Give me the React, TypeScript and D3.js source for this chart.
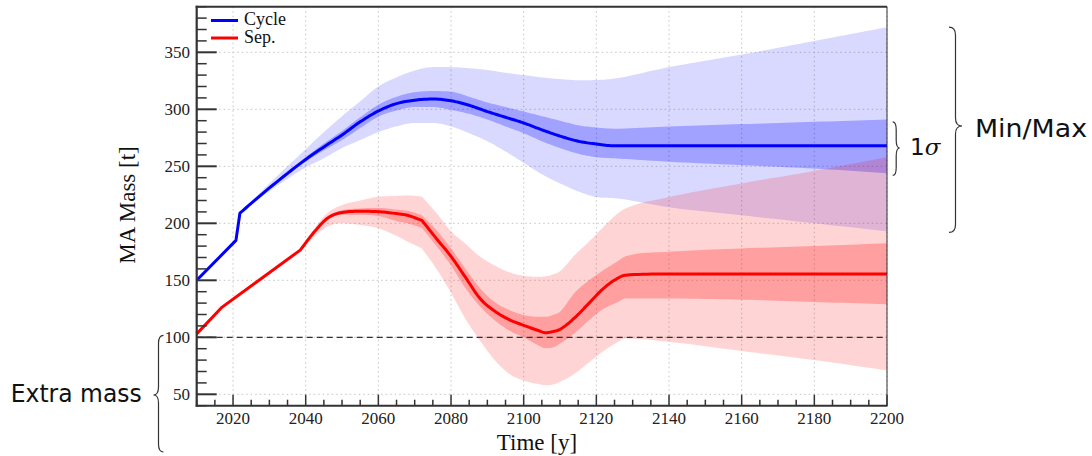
import React, { useEffect, useRef } from "react";
import * as d3 from "d3";

// Cycle scenario
const cycleYears = [2010, 2020.8, 2021.9, 2030, 2040, 2045, 2050, 2055, 2060, 2065, 2070, 2075, 2080, 2085, 2090, 2095, 2100, 2105, 2110, 2115, 2120, 2125, 2140, 2160, 2180, 2200];
const cycleMid = [150, 185, 209, 231, 256, 267, 277.5, 289, 298.5, 305, 308, 309, 307.5, 303.5, 298, 293, 288, 282, 276.5, 272, 269.5, 268, 268, 268, 268, 268];
const cycleSigLo = [150, 185, 209, 230, 254, 264, 273, 283.5, 293.5, 299, 302, 302, 299.5, 296, 291, 285, 279, 272, 266, 261, 258, 257, 254, 251, 248, 244];
const cycleSigHi = [150, 185, 209, 232, 258, 270, 281, 293, 304, 311, 315, 316, 315.5, 311, 306, 302, 298, 294, 290, 286, 284, 283, 285, 287, 289, 291];
const cycleMin = [150, 185, 209, 228, 249, 257, 266, 273, 280, 285, 288, 288, 285, 279, 272, 263, 253, 243, 235, 228, 223, 222, 214, 207, 200, 193];
const cycleMax = [150, 185, 209, 235, 265, 280, 294, 307, 320, 328, 334, 337, 337, 336, 334.5, 332, 330, 328, 326.5, 325.5, 325.7, 327, 337, 348, 360, 372];
// indices where the curves have a corner (straight pieces before the first one)
const cycleCorners = [0, 1, 2];

// Separation scenario
const sepYears = [2010, 2017, 2038.5, 2042, 2046, 2050, 2055, 2060, 2065, 2068, 2072, 2076, 2080, 2084, 2088, 2092, 2096, 2100, 2104, 2106, 2108, 2110, 2114, 2118, 2122, 2126, 2128, 2140, 2160, 2180, 2200];
const sepMid = [103, 126.5, 176.5, 191, 204.5, 209.5, 210.5, 210.2, 208.5, 207, 202.5, 186.5, 171, 152.5, 134, 123, 115.5, 110.5, 106, 104, 105, 107, 117, 130, 143, 152, 154.5, 155.5, 155.5, 155.5, 155.5];
const sepSigLo = [103, 126.5, 176, 190, 203, 207.5, 207.5, 206.4, 202, 200, 196, 180, 163, 143, 127, 115, 106, 100, 93, 90.5, 91, 94.5, 103.5, 115, 125, 131, 134, 134, 133, 131, 129];
const sepSigHi = [103, 126.5, 177, 192, 206, 211.5, 213, 213.5, 212, 211, 207, 194, 178, 160, 143, 131, 124, 119.5, 118, 118, 119.5, 122.5, 139, 150, 159, 167, 171, 175, 178, 180, 182.5];
const sepMin = [103, 126.5, 176, 187, 197, 200, 198.5, 195.6, 189, 184, 178, 160, 139, 116, 97, 80, 68, 62, 59, 58, 58.5, 61, 68, 78, 88, 96, 99, 96, 88, 80, 71];
const sepMax = [103, 126.5, 177.5, 194, 209, 216, 220, 223.3, 224, 224.5, 223.5, 209, 193, 182, 170.7, 163, 157, 154, 153, 153.5, 155, 158, 172, 184, 197, 209, 213, 223, 235, 246, 258];
const sepCorners = [0, 1, 2, 10];

const legendNames = ["Cycle", "Sep."];
const extraMassLevel = 100;

const W = 1092;
const H = 456;

// monotone cubic sampling of one piece (Fritsch-Carlson)
function sampleMonotone(xs: number[], ys: number[], steps = 10): [number, number][] {
  const n = xs.length;
  if (n < 3) return xs.map((xv, i) => [xv, ys[i]]);
  const d: number[] = [];
  for (let i = 0; i < n - 1; i++) d.push((ys[i + 1] - ys[i]) / (xs[i + 1] - xs[i]));
  const m: number[] = new Array(n);
  m[0] = d[0];
  m[n - 1] = d[n - 2];
  for (let i = 1; i < n - 1; i++) m[i] = d[i - 1] * d[i] <= 0 ? 0 : (d[i - 1] + d[i]) / 2;
  for (let i = 0; i < n - 1; i++) {
    if (d[i] === 0) { m[i] = 0; m[i + 1] = 0; continue; }
    const a = m[i] / d[i], b = m[i + 1] / d[i];
    const s = a * a + b * b;
    if (s > 9) { const t = 3 / Math.sqrt(s); m[i] = t * a * d[i]; m[i + 1] = t * b * d[i]; }
  }
  const out: [number, number][] = [];
  for (let i = 0; i < n - 1; i++) {
    const h = xs[i + 1] - xs[i];
    for (let k = 0; k < steps; k++) {
      const t = k / steps;
      const h00 = 2 * t ** 3 - 3 * t ** 2 + 1, h10 = t ** 3 - 2 * t ** 2 + t;
      const h01 = -2 * t ** 3 + 3 * t ** 2, h11 = t ** 3 - t ** 2;
      out.push([xs[i] + t * h, h00 * ys[i] + h10 * h * m[i] + h01 * ys[i + 1] + h11 * h * m[i + 1]]);
    }
  }
  out.push([xs[n - 1], ys[n - 1]]);
  return out;
}

// straight between the first corners, smooth between later corners
function sampleSeries(xs: number[], ys: number[], corners: number[]): [number, number][] {
  const pts: [number, number][] = [];
  const cuts = [...corners, xs.length - 1];
  for (let c = 0; c < cuts.length - 1; c++) {
    const a = cuts[c], b = cuts[c + 1];
    const piece = sampleMonotone(xs.slice(a, b + 1), ys.slice(a, b + 1));
    if (pts.length) piece.shift();
    pts.push(...piece);
  }
  return pts;
}

// curly brace, tip pointing towards dir (+1 right, -1 left)
function brace(x: number, y1: number, y2: number, ym: number, w: number, dir: number) {
  const s = x + dir * w * 0.5;
  const t = x + dir * w;
  const r = 8;
  return `M${x},${y1} Q${s},${y1} ${s},${y1 + r} L${s},${ym - r} Q${s},${ym} ${t},${ym} ` +
    `Q${s},${ym} ${s},${ym + r} L${s},${y2 - r} Q${s},${y2} ${x},${y2}`;
}

const App = () => {
  const ref = useRef(null);

  useEffect(() => {
    const svg = d3.select(ref.current);
    svg.selectAll("*").remove();

    const x = d3.scaleLinear().domain([2010, 2200]).range([196.7, 887]);
    const y = d3.scaleLinear().domain([40, 390]).range([405.7, 6.7]);
    const serif = "'Liberation Serif', 'Times New Roman', serif";
    const sans = "'DejaVu Sans', sans-serif";

    const g = svg.append("g");

    // grid
    const xMajor = d3.range(2020, 2201, 20);
    const yMajor = d3.range(50, 351, 50);
    g.selectAll(".vg").data(xMajor).enter().append("line")
      .attr("x1", d => x(d)).attr("x2", d => x(d))
      .attr("y1", y(390)).attr("y2", y(40))
      .attr("stroke", "#c4c4c4").attr("stroke-width", 1).attr("stroke-dasharray", "1.5,3");
    g.selectAll(".hg").data(yMajor).enter().append("line")
      .attr("x1", x(2010)).attr("x2", x(2200))
      .attr("y1", d => y(d)).attr("y2", d => y(d))
      .attr("stroke", "#c4c4c4").attr("stroke-width", 1).attr("stroke-dasharray", "1.5,3");

    const band = (years: number[], lo: number[], hi: number[], corners: number[]) => {
      const l = sampleSeries(years, lo, corners);
      const h = sampleSeries(years, hi, corners);
      return d3.area<number>().x(i => x(l[i][0])).y0(i => y(l[i][1])).y1(i => y(h[i][1]))(d3.range(l.length));
    };
    const line = (years: number[], v: number[], corners: number[]) =>
      d3.line<[number, number]>().x(p => x(p[0])).y(p => y(p[1]))(sampleSeries(years, v, corners));

    g.append("path").attr("d", band(cycleYears, cycleMin, cycleMax, cycleCorners)).attr("fill", "#0000ff").attr("fill-opacity", 0.15);
    g.append("path").attr("d", band(cycleYears, cycleSigLo, cycleSigHi, cycleCorners)).attr("fill", "#0000ff").attr("fill-opacity", 0.26);
    g.append("path").attr("d", band(sepYears, sepMin, sepMax, sepCorners)).attr("fill", "#ff0000").attr("fill-opacity", 0.17);
    g.append("path").attr("d", band(sepYears, sepSigLo, sepSigHi, sepCorners)).attr("fill", "#ff0000").attr("fill-opacity", 0.25);

    // extra mass line
    g.append("line")
      .attr("x1", x(2010)).attr("x2", x(2200))
      .attr("y1", y(extraMassLevel)).attr("y2", y(extraMassLevel))
      .attr("stroke", "#333").attr("stroke-width", 1.3).attr("stroke-dasharray", "6,4");

    g.append("path").attr("d", line(cycleYears, cycleMid, cycleCorners)).attr("fill", "none")
      .attr("stroke", "#0000ff").attr("stroke-width", 3).attr("stroke-linejoin", "round");
    g.append("path").attr("d", line(sepYears, sepMid, sepCorners)).attr("fill", "none")
      .attr("stroke", "#ff0000").attr("stroke-width", 3).attr("stroke-linejoin", "round");

    // frame
    g.append("line").attr("x1", x(2200)).attr("x2", x(2200)).attr("y1", y(390)).attr("y2", y(40))
      .attr("stroke", "#333").attr("stroke-width", 1);
    g.append("line").attr("x1", x(2010) - 1).attr("x2", x(2200)).attr("y1", y(390)).attr("y2", y(390))
      .attr("stroke", "#333").attr("stroke-width", 2);
    g.append("line").attr("x1", x(2010) - 1).attr("x2", x(2200) + 0.5).attr("y1", y(40)).attr("y2", y(40))
      .attr("stroke", "#333").attr("stroke-width", 2);
    g.append("line").attr("x1", x(2010)).attr("x2", x(2010)).attr("y1", y(390) - 1).attr("y2", y(40) + 1)
      .attr("stroke", "#333").attr("stroke-width", 2.2);

    // y ticks
    const yTicks = d3.range(40, 391, 10);
    g.selectAll(".yt").data(yTicks).enter().append("line")
      .attr("x1", x(2010)).attr("x2", d => x(2010) + (d % 50 === 0 ? 20 : 10))
      .attr("y1", d => y(d)).attr("y2", d => y(d))
      .attr("stroke", "#333").attr("stroke-width", d => (d % 50 === 0 ? 2 : 1.5));
    g.selectAll(".yl").data(yMajor).enter().append("text")
      .attr("x", 190).attr("y", d => y(d) + 6)
      .attr("text-anchor", "end").attr("font-family", serif).attr("font-size", 17).attr("fill", "#222")
      .text(d => d);

    // x ticks
    const xTicks = d3.range(2010, 2201, 5);
    g.selectAll(".xt").data(xTicks).enter().append("line")
      .attr("x1", d => x(d)).attr("x2", d => x(d))
      .attr("y1", y(40)).attr("y2", d => y(40) - (d % 20 === 0 ? 11 : 6))
      .attr("stroke", "#333").attr("stroke-width", 1.5);
    g.selectAll(".xl").data(xMajor).enter().append("text")
      .attr("x", d => x(d)).attr("y", 423.5)
      .attr("text-anchor", "middle").attr("font-family", serif).attr("font-size", 17).attr("fill", "#222")
      .text(d => d);

    // axis titles
    g.append("text").attr("x", 537).attr("y", 450).attr("text-anchor", "middle")
      .attr("font-family", serif).attr("font-size", 23).attr("fill", "#111").text("Time [y]");
    g.append("text").attr("transform", "translate(135,205) rotate(-90)").attr("text-anchor", "middle")
      .attr("font-family", serif).attr("font-size", 23).attr("fill", "#111").text("MA Mass [t]");

    // legend
    const colors = ["#0000ff", "#ff0000"];
    legendNames.forEach((name, i) => {
      const ly = 20.5 + i * 17.5;
      g.append("line").attr("x1", 211).attr("x2", 238).attr("y1", ly).attr("y2", ly)
        .attr("stroke", colors[i]).attr("stroke-width", 3);
      g.append("text").attr("x", 244).attr("y", ly + 4.5).attr("font-family", serif)
        .attr("font-size", 18).attr("fill", "#111").text(name);
    });

    // annotations
    const brStroke = (p: string) =>
      g.append("path").attr("d", p).attr("fill", "none").attr("stroke", "#333").attr("stroke-width", 1.2);
    brStroke(brace(892.7, y(289), y(242), 148, 7, 1));
    brStroke(brace(949, y(372), y(192), 126, 13, 1));
    brStroke(brace(163.5, y(100) - 2, 452, 395, 10, -1));

    const t1 = g.append("text").attr("x", 910).attr("y", 155).attr("font-size", 23).attr("fill", "#111");
    t1.append("tspan").attr("font-family", sans).text("1");
    t1.append("tspan").attr("font-family", "'DejaVu Serif', serif").attr("font-style", "italic").text("σ");
    g.append("text").attr("x", 975).attr("y", 136.7).attr("font-family", sans).attr("font-size", 25)
      .attr("textLength", 112).attr("lengthAdjust", "spacingAndGlyphs").attr("fill", "#111").text("Min/Max");
    g.append("text").attr("x", 10.7).attr("y", 401.7).attr("font-family", sans).attr("font-size", 25)
      .attr("textLength", 131).attr("lengthAdjust", "spacingAndGlyphs").attr("fill", "#111").text("Extra mass");
  }, []);

  return (
    <svg ref={ref} width={W} height={H}
      style={{ position: "absolute", left: 0, top: 0, background: "#fff", display: "block" }} />
  );
};

export default App;
